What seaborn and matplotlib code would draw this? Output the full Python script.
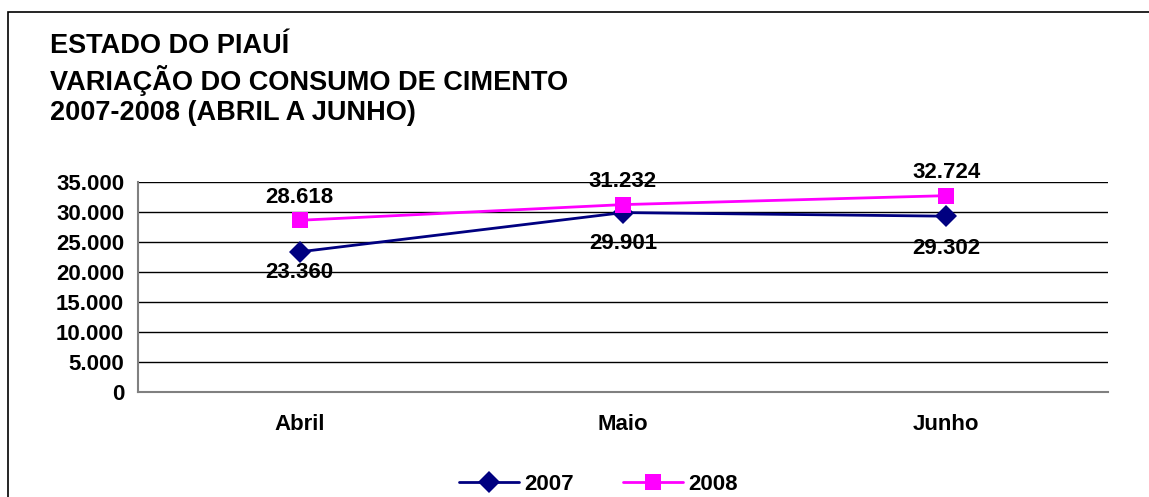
import pandas as pd
import seaborn as sns
import matplotlib.pyplot as plt
from matplotlib.patches import Rectangle
from matplotlib.ticker import FuncFormatter, FixedLocator

months = ['Abril', 'Maio', 'Junho']
consumo_2007 = [23360, 29901, 29302]
consumo_2008 = [28618, 31232, 32724]
years = ['2007', '2008']
colors = {'2007': '#000080', '2008': '#FF00FF'}
markers = {'2007': 'D', '2008': 's'}

df = pd.DataFrame({
    'pos': list(range(len(months))) * 2,
    'mes': months * 2,
    'ano': ['2007'] * 3 + ['2008'] * 3,
    'consumo': consumo_2007 + consumo_2008,
})

sns.set_style('white')
plt.rcParams['font.family'] = ['Liberation Sans', 'DejaVu Sans']
plt.rcParams['font.weight'] = 'bold'
plt.rcParams['text.color'] = 'black'
plt.rcParams['xtick.color'] = 'black'
plt.rcParams['ytick.color'] = 'black'

fig = plt.figure(figsize=(11.49, 4.97), dpi=100)
ax = fig.add_axes([0.1201, 0.2113, 0.8442, 0.4225])

sns.lineplot(
    data=df, x='pos', y='consumo', hue='ano', style='ano',
    palette=colors, markers=markers, dashes=False,
    markersize=11, linewidth=2, markeredgewidth=0, ax=ax, legend=False
)

def fmt(v):
    return f'{int(v):,}'.replace(',', '.')

# data labels (2008 above the points, 2007 below, like the original Excel chart)
for i, v in enumerate(consumo_2008):
    ax.annotate(fmt(v), (i, v), xytext=(0, 9), textcoords='offset points',
                ha='center', va='bottom', fontsize=16, fontweight='bold')
below = [-7, -15, -16]
for i, v in enumerate(consumo_2007):
    ax.annotate(fmt(v), (i, v), xytext=(0, below[i]), textcoords='offset points',
                ha='center', va='top', fontsize=16, fontweight='bold')

ax.set_xlim(-0.5, 2.5)
ax.set_ylim(0, 35000)
ax.set_yticks(range(0, 35001, 5000))
ax.yaxis.set_major_formatter(FuncFormatter(lambda v, p: fmt(v)))
ax.set_xticks(range(len(months)))
ax.set_xticklabels(months)
ax.xaxis.set_minor_locator(FixedLocator([-0.5, 0.5, 1.5, 2.5]))
ax.tick_params(axis='x', which='major', length=0, pad=16, labelsize=16)
ax.tick_params(axis='x', which='minor', length=6, color='#808080', direction='out', width=1)
ax.tick_params(axis='y', length=6, color='#808080', labelcolor='black', direction='out',
               width=1, labelsize=16, pad=4)
ax.set_xlabel('')
ax.set_ylabel('')
ax.grid(axis='y', color='black', linewidth=1)
ax.set_axisbelow(True)
for s in ['top', 'right']:
    ax.spines[s].set_visible(False)
for s in ['left', 'bottom']:
    ax.spines[s].set_color('#808080')
    ax.spines[s].set_linewidth(1.5)
for lab in ax.get_xticklabels() + ax.get_yticklabels():
    lab.set_fontweight('bold')

# title
fig.text(50 / 1149, 1 - 46 / 497, 'ESTADO DO PIAUÍ', fontsize=19.5, fontweight='bold', va='center')
fig.text(50 / 1149, 1 - 80 / 497, 'VARIAÇÃO DO CONSUMO DE CIMENTO', fontsize=19.5, fontweight='bold', va='center')
fig.text(50 / 1149, 1 - 113 / 497, '2007-2008 (ABRIL A JUNHO)', fontsize=19.5, fontweight='bold', va='center')

# legend
handles = [plt.Line2D([], [], color=colors[y], marker=markers[y], markersize=11,
                      linewidth=2, markeredgewidth=0) for y in years]
fig.legend(handles, years, loc='center', bbox_to_anchor=(0.521, 1 - 484 / 497), ncol=2,
           frameon=False, prop={'size': 16, 'weight': 'bold'}, handlelength=2.7,
           handletextpad=0.25, columnspacing=2.2)

# outer chart frame
fig.patches.append(Rectangle((8 / 1149, -0.05), 1.2, 1 - 12 / 497 + 0.05, transform=fig.transFigure,
                             fill=False, edgecolor='black', linewidth=1.2))

fig.savefig('out.png', dpi=100)
